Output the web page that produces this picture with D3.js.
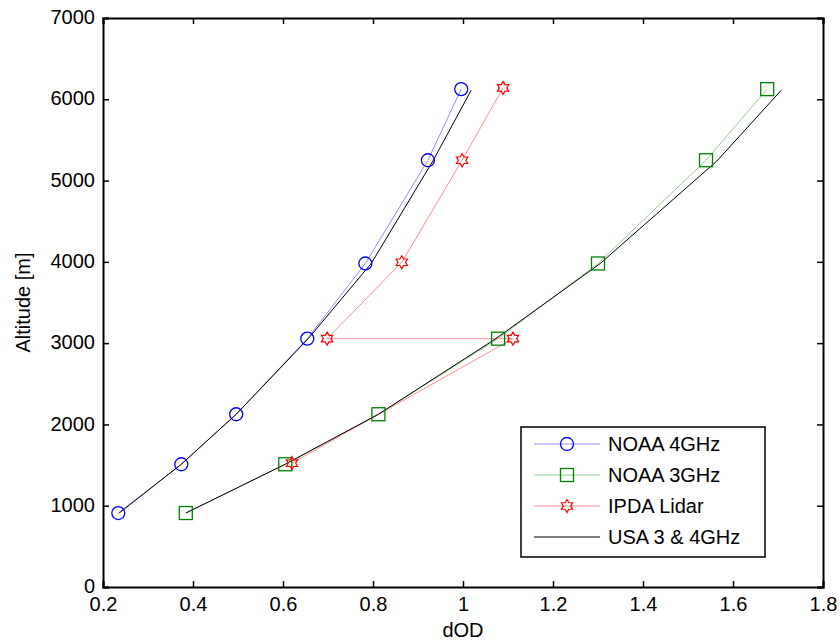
<!DOCTYPE html>
<html>
<head>
<meta charset="utf-8">
<script src="https://cdn.jsdelivr.net/npm/d3@7"></script>
<style>
  body { margin: 0; background: #fff; }
  svg { font-family: "Liberation Sans", Arial, sans-serif; }
  .axis text { font-size: 20px; fill: #000; }
  .axis path, .axis line { stroke: #000; }
</style>
</head>
<body>
<div id="chart"></div>
<script>
// values
var noaa4Alt = [910, 1510, 2125, 3055, 3980, 5250, 6125];
var noaa4Dod = [0.234, 0.374, 0.496, 0.654, 0.783, 0.922, 0.996];

var noaa3Alt = [910, 1510, 2125, 3055, 3980, 5250, 6125];
var noaa3Dod = [0.384, 0.605, 0.812, 1.078, 1.300, 1.540, 1.676];

var ipdaAlt = [1525, 3055, 3055, 3995, 5250, 6140];
var ipdaDod = [0.620, 1.111, 0.698, 0.864, 0.998, 1.089];

var usaAlt = [910, 1510, 2125, 3055, 3980, 5240, 6110];
var usaLowDod = [0.236, 0.374, 0.496, 0.656, 0.796, 0.933, 1.018];
var usaHighDod = [0.384, 0.605, 0.812, 1.073, 1.305, 1.564, 1.707];

var xTicks = [0.2, 0.4, 0.6, 0.8, 1, 1.2, 1.4, 1.6, 1.8];
var yTicks = [0, 1000, 2000, 3000, 4000, 5000, 6000, 7000];

var legendNames = ["NOAA 4GHz", "NOAA 3GHz", "IPDA Lidar", "USA 3 & 4GHz"];

var margin = {top: 18, right: 17, bottom: 53, left: 103},
    width = 840 - margin.left - margin.right,
    height = 640 - margin.top - margin.bottom;

var svg = d3.select("#chart").append("svg")
    .attr("width", 840)
    .attr("height", 640)
    .append("g")
    .attr("transform", "translate(" + margin.left + "," + margin.top + ")");

var x = d3.scaleLinear().domain([0.2, 1.8]).range([0, width]);
var y = d3.scaleLinear().domain([0, 7000]).range([height, 0]);

function zip(xs, ys) {
    return xs.map(function (d, i) { return [d, ys[i]]; });
}

var line = d3.line()
    .x(function (d) { return x(d[0]); })
    .y(function (d) { return y(d[1]); });

// six pointed star outline
function hexagram(r) {
    var pts = [];
    for (var i = 0; i < 12; i++) {
        var a = -Math.PI / 2 + i * Math.PI / 6;
        var rr = (i % 2 === 0) ? r : r / Math.sqrt(3);
        pts.push([rr * Math.cos(a), rr * Math.sin(a)]);
    }
    return "M" + pts.map(function (p) { return p[0].toFixed(2) + "," + p[1].toFixed(2); }).join("L") + "Z";
}

function drawMarker(g, type, color) {
    if (type === "circle") {
        g.append("circle").attr("r", 6.5).attr("fill", "none").attr("stroke", color).attr("stroke-width", 1.3);
    } else if (type === "square") {
        g.append("rect").attr("x", -6.5).attr("y", -6.5).attr("width", 13).attr("height", 13)
            .attr("fill", "none").attr("stroke", color).attr("stroke-width", 1.3);
    } else if (type === "star") {
        g.append("path").attr("d", hexagram(6.5)).attr("fill", "none").attr("stroke", color).attr("stroke-width", 1.2);
    }
}

var series = [
    {name: legendNames[0], data: zip(noaa4Dod, noaa4Alt), line: "#8f8fff", marker: "circle", mcolor: "#0000ff"},
    {name: legendNames[1], data: zip(noaa3Dod, noaa3Alt), line: "#8fcf8f", marker: "square", mcolor: "#008000"},
    {name: legendNames[2], data: zip(ipdaDod, ipdaAlt), line: "#ff9090", marker: "star", mcolor: "#ff0000"}
];

// axes box with inward ticks
svg.append("g")
    .attr("class", "x axis")
    .attr("transform", "translate(0," + height + ")")
    .call(d3.axisBottom(x).tickValues(xTicks).tickSize(-6).tickPadding(10).tickFormat(d3.format("")))
    .call(function (g) { g.select(".domain").attr("stroke-width", 2); });

svg.append("g")
    .attr("class", "x axis")
    .call(d3.axisTop(x).tickValues(xTicks).tickSize(-6).tickFormat(""))
    .call(function (g) { g.select(".domain").attr("stroke-width", 2); });

svg.append("g")
    .attr("class", "y axis")
    .call(d3.axisLeft(y).tickValues(yTicks).tickSize(-6).tickPadding(8).tickFormat(d3.format("d")))
    .call(function (g) {
        g.select(".domain").attr("stroke-width", 2);
        g.selectAll(".tick text").attr("dy", "0.28em");
    });

svg.append("g")
    .attr("class", "y axis")
    .attr("transform", "translate(" + width + ",0)")
    .call(d3.axisRight(y).tickValues(yTicks).tickSize(-6).tickFormat(""))
    .call(function (g) { g.select(".domain").attr("stroke-width", 2).attr("stroke", "#333"); });

svg.selectAll(".axis .tick line").attr("stroke-width", 1.5);

// lines
series.forEach(function (s) {
    svg.append("path")
        .datum(s.data)
        .attr("fill", "none")
        .attr("stroke", s.line)
        .attr("stroke-width", 1)
        .attr("d", line);
});

[zip(usaLowDod, usaAlt), zip(usaHighDod, usaAlt)].forEach(function (d) {
    svg.append("path")
        .datum(d)
        .attr("fill", "none")
        .attr("stroke", "#000")
        .attr("stroke-width", 1)
        .attr("d", line);
});

// markers
series.forEach(function (s) {
    svg.selectAll(null)
        .data(s.data)
        .enter().append("g")
        .attr("transform", function (d) { return "translate(" + x(d[0]) + "," + y(d[1]) + ")"; })
        .each(function () { drawMarker(d3.select(this), s.marker, s.mcolor); });
});

// axis titles
svg.append("text")
    .attr("x", width / 2)
    .attr("y", height + 50)
    .style("text-anchor", "middle")
    .style("font-size", "20px")
    .text("dOD");

svg.append("text")
    .attr("transform", "rotate(-90)")
    .attr("x", -height / 2)
    .attr("y", -73)
    .style("text-anchor", "middle")
    .style("font-size", "20px")
    .text("Altitude [m]");

// legend
var legend = svg.append("g")
    .attr("transform", "translate(" + (521 - margin.left) + "," + (427 - margin.top) + ")");

legend.append("rect")
    .attr("width", 244)
    .attr("height", 130)
    .attr("fill", "#fff")
    .attr("stroke", "#000")
    .attr("stroke-width", 1.5);

var legendItems = series.concat([{name: legendNames[3], line: "#000", marker: null}]);

legendItems.forEach(function (s, i) {
    var row = legend.append("g").attr("transform", "translate(0," + (17 + i * 31) + ")");
    row.append("line")
        .attr("x1", 13).attr("x2", 79)
        .attr("stroke", s.line)
        .attr("stroke-width", 1);
    if (s.marker) {
        drawMarker(row.append("g").attr("transform", "translate(46,0)"), s.marker, s.mcolor);
    }
    row.append("text")
        .attr("x", 87)
        .attr("dy", "0.35em")
        .style("font-size", "20px")
        .text(s.name);
});
</script>
</body>
</html>
